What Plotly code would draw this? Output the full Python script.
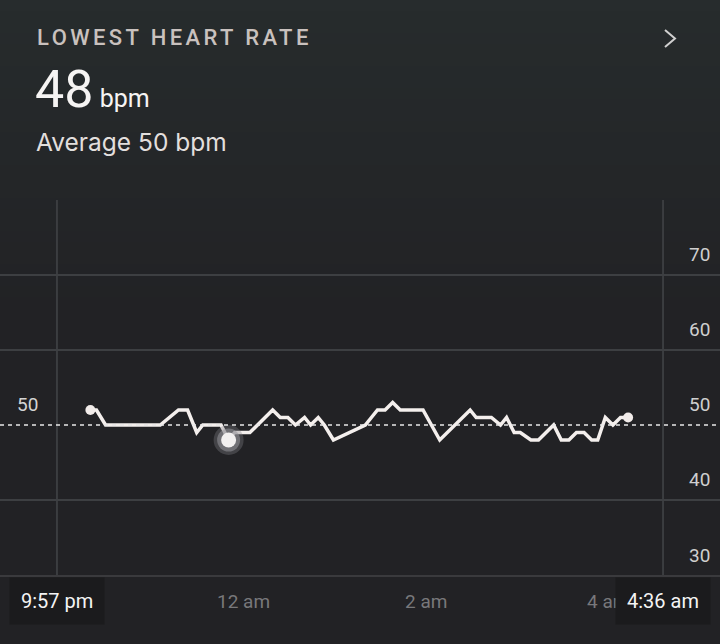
import pandas as pd
import numpy as np
import plotly.graph_objects as go

# données
start_time = "21:57"
end_time = "04:36"
times = ["22:19", "22:23", "22:29", "23:05", "23:17", "23:23", "23:29", "23:33", "23:45", "23:50",
         "23:54", "00:04", "00:19", "00:24", "00:29", "00:34", "00:40", "00:44", "00:49", "00:53",
         "00:59", "01:20", "01:24", "01:28", "01:33", "01:38", "01:43", "01:58", "02:09", "02:29",
         "02:33", "02:43", "02:49", "02:53", "02:58", "03:02", "03:09", "03:14", "03:24", "03:29",
         "03:34", "03:39", "03:44", "03:49", "03:53", "03:58", "04:03", "04:08", "04:13"]
bpm = [52, 52, 50, 50, 52, 52, 49, 50, 50, 48,
       49, 49, 52, 51, 51, 50, 51, 50, 51, 50,
       48, 50, 51, 52, 52, 53, 52, 52, 48, 52,
       51, 51, 50, 51, 49, 49, 48, 48, 50, 48,
       48, 49, 49, 48, 48, 51, 50, 51, 51]
avg_bpm = 50
y_ticks = [30, 40, 50, 60, 70]
grid_vals = [40, 60, 70]
x_tick_times = ["00:00", "02:00", "04:00"]
x_tick_labels = ["12 am", "2 am", "4 am"]
start_label = "9:57 pm"
end_label = "4:36 am"
titre = "LOWEST HEART RATE"


def to_dt(s):
    # soir = jour 1, matin = jour 2
    h = int(s.split(":")[0])
    day = "2024-03-04" if h >= 12 else "2024-03-05"
    return pd.Timestamp(day + " " + s)


x = [to_dt(t) for t in times]
t0 = to_dt(start_time)
t1 = to_dt(end_time)
pad = pd.Timedelta(minutes=37.5)
i_min = int(np.argmin(bpm))

W, H = 720, 644
TOP, BOT = 200, 69
font = "Roboto"
bg = "#222225"

fig = go.Figure()

# ligne principale
fig.add_trace(go.Scatter(x=x, y=bpm, mode="lines",
                         line=dict(color="#f4efed", width=3.5), hoverinfo="skip"))
# points début / fin
fig.add_trace(go.Scatter(x=[x[0], x[-1]], y=[bpm[0], bpm[-1]], mode="markers",
                         marker=dict(size=10, color="#f2ecea"), hoverinfo="skip"))
# minimum avec halo
for s, c in [(30, "rgba(130,130,135,0.35)"), (23, "rgba(150,150,155,0.55)"), (15, "#f2f0f0")]:
    fig.add_trace(go.Scatter(x=[x[i_min]], y=[bpm[i_min]], mode="markers",
                             marker=dict(size=s, color=c), hoverinfo="skip"))

shapes = []
# fond dégradé
n = 30
c_top = np.array([39, 44, 45])
c_bot = np.array([34, 34, 37])
for k in range(n):
    f = k / (n - 1)
    c = (c_top * (1 - f) + c_bot * f).astype(int)
    y_hi = 1 - k * (330 / n) / H
    y_lo = 1 - (k + 1) * (330 / n) / H
    shapes.append(dict(type="rect", xref="paper", yref="paper", x0=0, x1=1, y0=y_lo, y1=y_hi,
                       fillcolor="rgb(%d,%d,%d)" % tuple(c), line=dict(width=0), layer="below"))

# lignes verticales début/fin
for t in [t0, t1]:
    shapes.append(dict(type="line", xref="x", yref="paper", x0=t, x1=t,
                       y0=BOT / H, y1=1 - TOP / H, line=dict(color="#3b3d40", width=2), layer="below"))
# moyenne
shapes.append(dict(type="line", xref="paper", yref="y", x0=0, x1=1, y0=avg_bpm, y1=avg_bpm,
                   line=dict(color="#e8e8e8", width=1.6, dash="4px,4px")))
# chevron
shapes.append(dict(type="path", xref="paper", yref="paper",
                   path="M %f,%f L %f,%f L %f,%f" % (665 / W, 1 - 30 / H, 675 / W, 1 - 38.5 / H, 665 / W, 1 - 47 / H),
                   line=dict(color="#d0d0d0", width=2)))

ann = []
# centré : l'espacement des lettres s'étend des deux côtés
ann.append(dict(text=titre, x=174 / W, y=1 - 38 / H, xref="paper", yref="paper",
                xanchor="center", yanchor="middle", showarrow=False,
                font=dict(family=font, size=22, color="#c9c1be", weight=500)))
ann.append(dict(text="%d<span style='font-size:25px'> bpm</span>" % min(bpm), x=33 / W, y=1 - 90 / H,
                xref="paper", yref="paper", xanchor="left", yanchor="middle", showarrow=False,
                font=dict(family=font, size=52, color="#f6f4f3")))
ann.append(dict(text="Average %d bpm" % avg_bpm, x=34 / W, y=1 - 142 / H, xref="paper", yref="paper",
                xanchor="left", yanchor="middle", showarrow=False,
                font=dict(family="Inter", size=24.5, color="#e2dfdd")))
# étiquettes axe y (à droite, au-dessus des lignes)
for v in y_ticks:
    ann.append(dict(text=str(v), x=1, y=v, xref="paper", yref="y", xanchor="right", yanchor="middle",
                    xshift=-8, yshift=20, showarrow=False,
                    font=dict(family=font, size=19, color="#cfcfcf")))
ann.append(dict(text=str(avg_bpm), x=0, y=avg_bpm, xref="paper", yref="y", xanchor="left",
                yanchor="middle", xshift=15, yshift=20, showarrow=False,
                font=dict(family=font, size=19, color="#d4d4d4")))
# étiquettes axe x
for t, lab in zip(x_tick_times, x_tick_labels):
    ann.append(dict(text=lab, x=to_dt(t), y=1 - 601 / H, xref="x", yref="paper", xanchor="center",
                    yanchor="middle", showarrow=False,
                    font=dict(family=font, size=19, color="#78787b")))
for t, lab in [(t0, start_label), (t1, end_label)]:
    ann.append(dict(text=lab, x=t, y=1 - 601 / H, xref="x", yref="paper", xanchor="center",
                    yanchor="middle", showarrow=False, bgcolor="#1b1b1d", borderpad=11,
                    font=dict(family=font, size=20, color="#f4f4f4")))

fig.update_layout(
    width=W, height=H,
    margin=dict(l=0, r=0, t=0, b=0),
    paper_bgcolor=bg, plot_bgcolor="rgba(0,0,0,0)",
    showlegend=False,
    shapes=shapes, annotations=ann,
    xaxis=dict(range=[t0 - pad, t1 + pad], domain=[0, 1], showgrid=False, zeroline=False,
               showticklabels=False, showline=True, linecolor="#3a3a3d", linewidth=2, fixedrange=True),
    yaxis=dict(range=[30, 80], domain=[BOT / H, 1 - TOP / H], tickvals=grid_vals, showticklabels=False,
               showgrid=True, gridcolor="#3d3f42", gridwidth=1.5, zeroline=False, fixedrange=True),
)

# pas de marge autour de la page + espacement des lettres du titre
post = """
document.body.style.margin = '0';
document.querySelectorAll('text.annotation-text').forEach(function (el) {
  if (el.textContent === '%s') { el.style.letterSpacing = '3.4px'; }
});
""" % titre

fig.write_html("out.html", post_script=post, config={"displayModeBar": False})
